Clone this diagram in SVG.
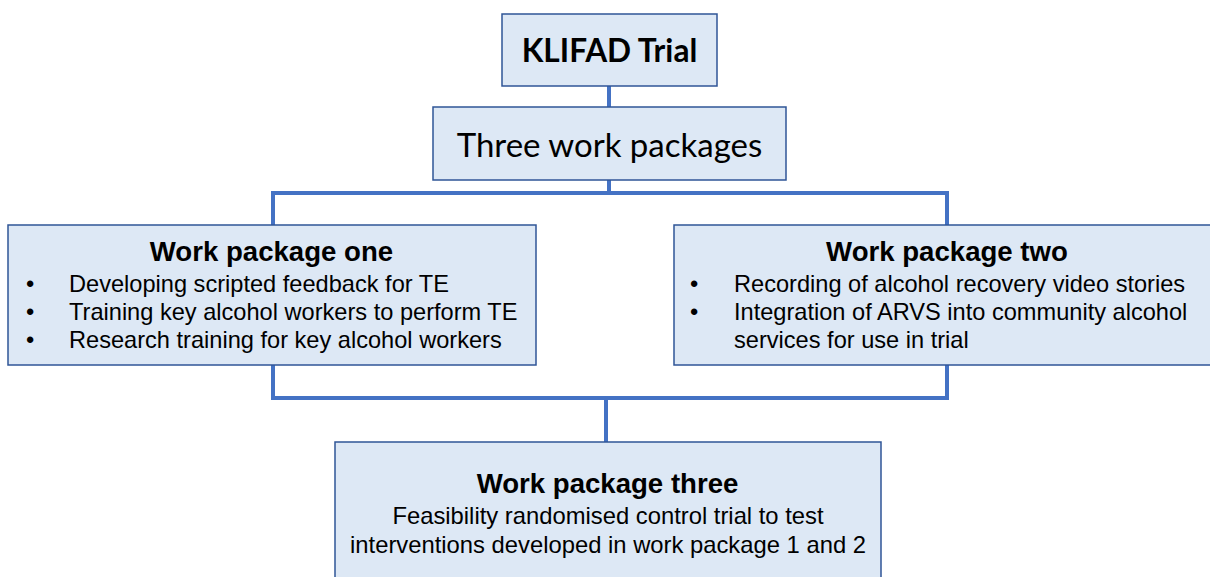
<svg xmlns="http://www.w3.org/2000/svg" width="1210" height="577" viewBox="0 0 1210 577">
  <style>
    .box { fill: #dde8f5; stroke: #2f5597; stroke-width: 1.5; }
    .link { fill: none; stroke: #4472c4; stroke-width: 4; }
    .cal { font-family: Lato, "Open Sans", sans-serif; fill: #000; }
    .ar { font-family: "Liberation Sans", Arial, sans-serif; fill: #000; }
    .head { font-size: 27.6px; font-weight: bold; text-anchor: middle; }
    .item { font-size: 23.6px; }
    .para { font-size: 23.8px; text-anchor: middle; }
  </style>
  <rect width="1210" height="577" fill="#ffffff"/>

  <!-- connectors -->
  <g id="connectors">
    <path class="link" d="M609 86 V107"/>
    <path class="link" d="M609 180 V193 M273 193 H947 M273 191 V225 M947 191 V225"/>
    <path class="link" d="M273 365 V398 M947 365 V398 M271 398 H949 M606 398 V442"/>
  </g>

  <g id="klifad">
    <rect class="box" x="502" y="14" width="215" height="72"/>
    <text class="cal" x="609.5" y="62" font-size="31.6" font-weight="bold" text-anchor="middle">KLIFAD Trial</text>
  </g>

  <g id="three-packages">
    <rect class="box" x="433" y="107" width="353" height="73"/>
    <text class="cal" x="609.5" y="157" font-size="33" text-anchor="middle">Three work packages</text>
  </g>

  <g id="wp1">
    <rect class="box" x="8" y="225" width="528" height="140"/>
    <text class="ar head" x="271.5" y="261">Work package one</text>
    <text class="ar item" x="26" y="292">•</text>
    <text class="ar item" x="69" y="292">Developing scripted feedback for TE</text>
    <text class="ar item" x="26" y="320">•</text>
    <text class="ar item" x="69" y="320">Training key alcohol workers to perform TE</text>
    <text class="ar item" x="26" y="348">•</text>
    <text class="ar item" x="69" y="348">Research training for key alcohol workers</text>
  </g>

  <g id="wp2">
    <rect class="box" x="674" y="225" width="545" height="140"/>
    <text class="ar head" x="947" y="261">Work package two</text>
    <text class="ar item" x="690" y="292">•</text>
    <text class="ar item" x="734" y="292">Recording of alcohol recovery video stories</text>
    <text class="ar item" x="690" y="320">•</text>
    <text class="ar item" x="734" y="320">Integration of ARVS into community alcohol</text>
    <text class="ar item" x="734" y="348">services for use in trial</text>
  </g>

  <g id="wp3">
    <rect class="box" x="335" y="442" width="546" height="145"/>
    <text class="ar head" x="607.5" y="493">Work package three</text>
    <text class="ar para" x="608" y="524">Feasibility randomised control trial to test</text>
    <text class="ar para" x="608" y="553">interventions developed in work package 1 and 2</text>
  </g>
</svg>
